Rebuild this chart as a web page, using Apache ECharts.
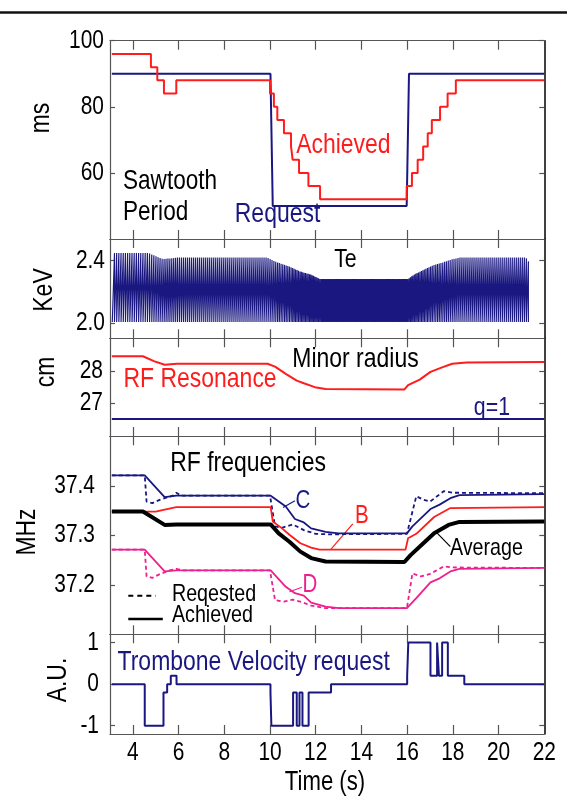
<!DOCTYPE html>
<html>
<head>
<meta charset="utf-8">
<script src="https://cdn.jsdelivr.net/npm/echarts@6/dist/echarts.min.js"></script>
<style>
  html, body { margin: 0; padding: 0; background: #fff; }
  #chart { width: 567px; height: 797px; }
</style>
</head>
<body>
<div id="chart"></div>
<script>
// ---------- data ----------
const timeTicks  = [4, 6, 8, 10, 12, 14, 16, 18, 20];
const timeLabels = [4, 6, 8, 10, 12, 14, 16, 18, 20, 22];

// Sawtooth period (ms): requested and achieved (achieved as change points)
const periodRequest  = [[3.08, 90], [10.02, 90], [10.12, 50], [15.98, 50], [16.08, 90], [22, 90]];
const periodAchieved = [[3.08, 96], [4.79, 92], [5.07, 88], [5.36, 84], [5.9, 88], [10.0, 84], [10.17, 80],
  [10.32, 76], [10.61, 72], [10.92, 68], [10.99, 64], [11.27, 60], [11.68, 56], [12.19, 52], [15.98, 56],
  [16.21, 60], [16.46, 64], [16.7, 68], [16.9, 72], [17.08, 76], [17.44, 80], [17.77, 84], [18.13, 88], [22, 88]];
const periodTicks = [60, 80, 100];

// Te: peak envelope of the sawtooth teeth and the post-crash floor (keV)
const teEnvT = [3.1, 4.68, 5.31, 5.93, 9.89, 10.22, 10.85, 11.33, 11.8, 12.19, 16.04, 16.3, 16.78, 17.18, 17.58, 17.97, 18.29, 21.2, 21.33];
const teEnvV = [2.45, 2.45, 2.41, 2.42, 2.42, 2.395, 2.362, 2.33, 2.31, 2.282, 2.282, 2.31, 2.346, 2.372, 2.39, 2.409, 2.42, 2.42, 2.39];
const teFloor = 2.005;
const teTicks = [2.0, 2.4];

// Minor radius (cm)
const rfResonance = [[3.08, 28.45], [4.44, 28.45], [4.92, 28.3], [5.39, 28.19], [5.93, 28.22], [9.89, 28.22],
  [10.22, 28.13], [10.69, 27.91], [11.17, 27.7], [11.48, 27.62], [11.96, 27.5], [12.43, 27.44], [15.88, 27.43],
  [16.04, 27.56], [16.55, 27.73], [17.02, 27.97], [17.5, 28.1], [17.97, 28.22], [18.6, 28.26], [22, 28.27]];
const qOne = [[3.08, 26.52], [22, 26.52]];
const radiusTicks = [27, 28];

// RF frequencies (MHz)
const freqC = [[3.08, 37.421], [4.52, 37.421], [5.39, 37.377], [5.9, 37.38], [10.03, 37.38], [10.69, 37.358],
  [11.09, 37.333], [11.48, 37.326], [11.8, 37.314], [12.43, 37.307], [13.0, 37.304], [15.99, 37.304],
  [16.23, 37.318], [17.02, 37.353], [17.42, 37.362], [17.89, 37.375], [18.29, 37.381], [22, 37.383]];
const freqCReq = [[3.08, 37.421], [4.52, 37.421], [4.6, 37.368], [4.85, 37.365], [5.2, 37.372], [5.75, 37.38],
  [5.9, 37.386], [6.1, 37.38], [10.0, 37.38], [10.22, 37.318], [10.5, 37.315], [11.0, 37.322], [11.5, 37.31],
  [12.0, 37.303], [12.5, 37.302], [15.99, 37.303], [16.4, 37.379], [16.7, 37.372], [17.0, 37.368],
  [17.6, 37.389], [18.0, 37.386], [22, 37.385]];
const freqB = [[3.08, 37.348], [5.0, 37.348], [5.39, 37.352], [5.9, 37.357], [10.03, 37.357], [10.12, 37.328],
  [10.5, 37.315], [10.85, 37.301], [11.33, 37.284], [11.8, 37.275], [12.16, 37.271], [15.93, 37.271],
  [16.04, 37.294], [16.4, 37.303], [17.18, 37.337], [17.89, 37.355], [22, 37.357]];
const freqAvg = [[3.08, 37.348], [4.44, 37.348], [5.39, 37.321], [5.9, 37.322], [10.03, 37.322], [10.38, 37.304],
  [10.85, 37.287], [11.33, 37.267], [11.8, 37.254], [12.43, 37.247], [15.88, 37.246], [16.15, 37.26],
  [16.78, 37.287], [17.18, 37.304], [17.81, 37.321], [18.29, 37.327], [22, 37.328]];
const freqD = [[3.08, 37.271], [4.52, 37.271], [5.39, 37.227], [5.9, 37.229], [10.03, 37.229], [10.69, 37.196],
  [11.09, 37.183], [11.48, 37.178], [11.8, 37.164], [12.43, 37.156], [13.0, 37.153], [15.99, 37.153],
  [16.4, 37.173], [17.02, 37.205], [17.42, 37.213], [17.89, 37.227], [18.29, 37.232], [22, 37.234]];
const freqDReq = [[3.08, 37.271], [4.52, 37.271], [4.6, 37.217], [4.85, 37.214], [5.2, 37.222], [5.6, 37.229],
  [5.9, 37.232], [6.2, 37.229], [10.0, 37.229], [10.22, 37.169], [10.6, 37.166], [11.0, 37.17], [11.4, 37.165],
  [11.8, 37.158], [12.4, 37.153], [15.99, 37.153], [16.23, 37.223], [16.6, 37.217], [17.0, 37.222],
  [17.6, 37.237], [18.0, 37.235], [22, 37.234]];
const freqTicks = [37.2, 37.3, 37.4];

// Trombone velocity request (A.U.), change points
const trombone = [[3.08, 0], [4.52, -1], [5.34, -0.2], [5.5, 0], [5.66, 0.2], [5.91, 0], [10.02, -0.2], [10.06, -1],
  [11.01, -0.2], [11.17, -1], [11.29, -0.2], [11.42, -1], [11.69, -0.2], [12.67, 0], [16.0, 0.2], [16.05, 1],
  [17.02, 0.2], [17.31, 1], [17.39, 0.2], [17.53, 1], [17.78, 0.2], [18.5, 0], [22, 0]];
const velocityTicks = [-1, 0, 1];

// ---------- Te sawtooth trace built from the achieved period and the peak envelope ----------
function stepValue(steps, t) {
  let v = steps[0][1];
  for (const [ts, vs] of steps) { if (ts <= t) v = vs; else break; }
  return v;
}
function envelope(t) {
  if (t <= teEnvT[0]) return teEnvV[0];
  for (let i = 1; i < teEnvT.length; i++) {
    if (t <= teEnvT[i]) {
      const f = (t - teEnvT[i - 1]) / (teEnvT[i] - teEnvT[i - 1]);
      return teEnvV[i - 1] + f * (teEnvV[i] - teEnvV[i - 1]);
    }
  }
  return teEnvV[teEnvV.length - 1];
}
const teTrace = [];
(function () {
  let t = teEnvT[0];
  teTrace.push([t, teFloor]);
  const tEnd = teEnvT[teEnvT.length - 1];
  while (true) {
    const next = t + stepValue(periodAchieved, t) / 1000;
    if (next > tEnd) break;
    teTrace.push([next, envelope(next)], [next, teFloor]);
    t = next;
  }
})();

// ---------- styling ----------
// Condensed sans look: Liberation Sans squeezed horizontally
const FONT = '"Liberation Sans", Arial, sans-serif';
const SQUEEZE = 0.82;
const NAVY = '#1a1880', RED = '#ff1c1c', PINK = '#ee1f8f', AXIS = '#555';
const LEFT = 110, WIDTH = 434.3;

const panels = [
  { top: 40.7,  height: 198.3, min: 40,   max: 100,  ticks: periodTicks,   margin: 6,  fmt: v => String(v) },
  { top: 239,   height: 99.3,  min: 1.9,  max: 2.54, ticks: teTicks,       margin: 5,  fmt: v => v.toFixed(1) },
  { top: 338.3, height: 97.7,  min: 26,   max: 29,   ticks: radiusTicks,   margin: 7,  fmt: v => String(v) },
  { top: 436.3, height: 198,   min: 37.1, max: 37.5, ticks: freqTicks,     margin: 15, fmt: v => v.toFixed(1) },
  { top: 634.3, height: 99.7,  min: -1.2, max: 1.2,  ticks: velocityTicks, margin: 11, fmt: v => String(v) }
];

const grid = [], xAxis = [], yAxis = [];
panels.forEach((p, i) => {
  grid.push({ left: LEFT, width: WIDTH, top: p.top, height: p.height });
  ['bottom', 'top'].forEach(pos => {
    xAxis.push({
      type: 'value', gridIndex: i, min: 3, max: 22, position: pos,
      axisLine: { show: true, onZero: false, lineStyle: { color: AXIS, width: 1.2 } },
      axisTick: { show: true, inside: true, length: 9, customValues: timeTicks, lineStyle: { color: AXIS, width: 1.2 } },
      axisLabel: { show: false },
      splitLine: { show: false }
    });
  });
  yAxis.push({
    type: 'value', gridIndex: i, min: p.min, max: p.max, position: 'left',
    axisLine: { show: true, onZero: false, lineStyle: { color: AXIS, width: 1.2 } },
    axisTick: { show: true, inside: true, length: 5, customValues: p.ticks, lineStyle: { color: AXIS, width: 1.2 } },
    axisLabel: { show: false },
    splitLine: { show: false }
  });
  yAxis.push({
    type: 'value', gridIndex: i, min: p.min, max: p.max, position: 'right',
    axisLine: { show: true, onZero: false, lineStyle: { color: '#111', width: 1.6 } },
    axisTick: { show: true, inside: true, length: 5, customValues: p.ticks, lineStyle: { color: AXIS, width: 1.2 } },
    axisLabel: { show: false },
    splitLine: { show: false }
  });
});

function line(panel, data, color, width, extra) {
  return Object.assign({
    type: 'line', xAxisIndex: 2 * panel, yAxisIndex: 2 * panel, data: data,
    showSymbol: false, symbol: 'none', silent: true, animation: false,
    lineStyle: { color: color, width: width }
  }, extra || {});
}
const dashed = (color, width) => ({ color: color, width: width, type: [4, 3] });

const series = [
  line(0, periodRequest, NAVY, 2),
  line(0, periodAchieved, RED, 2, { step: 'end' }),
  line(1, teTrace, NAVY, 1.15),
  line(2, qOne, NAVY, 2),
  line(2, rfResonance, RED, 2),
  line(3, freqCReq, NAVY, 1.8, { lineStyle: dashed(NAVY, 1.8) }),
  line(3, freqC, NAVY, 1.8),
  line(3, freqB, RED, 1.8),
  line(3, freqAvg, '#000', 4),
  line(3, freqDReq, PINK, 1.8, { lineStyle: dashed(PINK, 1.8) }),
  line(3, freqD, PINK, 1.8),
  line(4, trombone, NAVY, 2, { step: 'end' })
];

const chart = echarts.init(document.getElementById('chart'), null, { renderer: 'canvas' });
chart.setOption({ animation: false, grid, xAxis, yAxis, series });

// ---------- text and annotations, placed in data coordinates of each panel ----------
const px = (panel, t, v) => chart.convertToPixel({ xAxisIndex: 2 * panel, yAxisIndex: 2 * panel }, [t, v]);

function txt(x, y, text, size, color, align, vAlign, rotation) {
  return {
    type: 'text', silent: true, x: x, y: y, scaleX: SQUEEZE, rotation: rotation || 0,
    style: { text: text, fill: color, font: `${size}px ${FONT}`, align: align || 'center', verticalAlign: vAlign || 'middle' }
  };
}

const notes = [
  { p: 0, t: 13.21, v: 68.4, text: 'Achieved', color: RED, size: 28 },
  { p: 0, t: 3.57, v: 57.4, text: 'Sawtooth', color: '#000', size: 27.5, align: 'left' },
  { p: 0, t: 3.57, v: 48.0, text: 'Period', color: '#000', size: 27.5, align: 'left' },
  { p: 0, t: 10.33, v: 47.5, text: 'Request', color: NAVY, size: 28 },
  { p: 1, t: 13.3, v: 2.403, text: 'Te', color: '#000', size: 26 },
  { p: 2, t: 13.74, v: 28.37, text: 'Minor radius', color: '#000', size: 28 },
  { p: 2, t: 6.94, v: 27.73, text: 'RF Resonance', color: RED, size: 28 },
  { p: 2, t: 19.71, v: 26.87, text: 'q=1', color: NAVY, size: 26 },
  { p: 3, t: 9.04, v: 37.445, text: 'RF frequencies', color: '#000', size: 28 },
  { p: 3, t: 11.44, v: 37.369, text: 'C', color: NAVY, size: 25 },
  { p: 3, t: 14.02, v: 37.339, text: 'B', color: RED, size: 25 },
  { p: 3, t: 11.75, v: 37.2, text: 'D', color: PINK, size: 25 },
  { p: 3, t: 19.47, v: 37.274, text: 'Average', color: '#000', size: 24 },
  { p: 3, t: 5.71, v: 37.181, text: 'Reqested', color: '#000', size: 24, align: 'left' },
  { p: 3, t: 5.71, v: 37.138, text: 'Achieved', color: '#000', size: 24, align: 'left' },
  { p: 4, t: 3.33, v: 0.536, text: 'Trombone Velocity request', color: NAVY, size: 28, align: 'left' }
];
const leaders = [
  { p: 3, a: [11.09, 37.37], b: [10.57, 37.356], color: NAVY, width: 1.2 },
  { p: 3, a: [13.62, 37.323], b: [12.67, 37.272], color: RED, width: 1.2 },
  { p: 3, a: [11.4, 37.195], b: [10.85, 37.186], color: PINK, width: 1.2 },
  { p: 3, a: [17.89, 37.277], b: [17.26, 37.307], color: '#000', width: 1.2 },
  { p: 3, a: [3.8, 37.178], b: [5.0, 37.178], color: '#000', width: 2, dash: [5, 4] },
  { p: 3, a: [3.8, 37.131], b: [5.31, 37.131], color: '#000', width: 2.4 }
];
const axisNames = [
  { text: 'ms', x: 41, y: 118 },
  { text: 'KeV', x: 44, y: 290 },
  { text: 'cm', x: 46, y: 372 },
  { text: 'MHz', x: 27, y: 532 },
  { text: 'A.U.', x: 58, y: 680 }
];

const graphic = [
  { type: 'line', silent: true, shape: { x1: 0, y1: 12.5, x2: 567, y2: 12.5 }, style: { stroke: '#111', lineWidth: 2.5 } }
];
// tick labels
panels.forEach((p, i) => {
  p.ticks.forEach(v => {
    const [x, y] = px(i, 3, v);
    graphic.push(txt(x - p.margin, y, p.fmt(v), 25.5, '#000', 'right'));
  });
});
timeLabels.forEach(t => {
  const [x, y] = px(4, t, -1.2);
  graphic.push(txt(x, y + 18.5, String(t), 25.5, '#000'));
});
notes.forEach(n => {
  const [x, y] = px(n.p, n.t, n.v);
  graphic.push(txt(x, y, n.text, n.size, n.color, n.align));
});
leaders.forEach(l => {
  const [x1, y1] = px(l.p, l.a[0], l.a[1]);
  const [x2, y2] = px(l.p, l.b[0], l.b[1]);
  graphic.push({
    type: 'line', silent: true, shape: { x1, y1, x2, y2 },
    style: { stroke: l.color, lineWidth: l.width, lineDash: l.dash || null }
  });
});
axisNames.forEach(a => graphic.push(txt(a.x, a.y, a.text, 28, '#000', 'center', 'middle', Math.PI / 2)));
graphic.push(txt(325, 783, 'Time (s)', 27, '#000'));

chart.setOption({ graphic });
</script>
</body>
</html>
